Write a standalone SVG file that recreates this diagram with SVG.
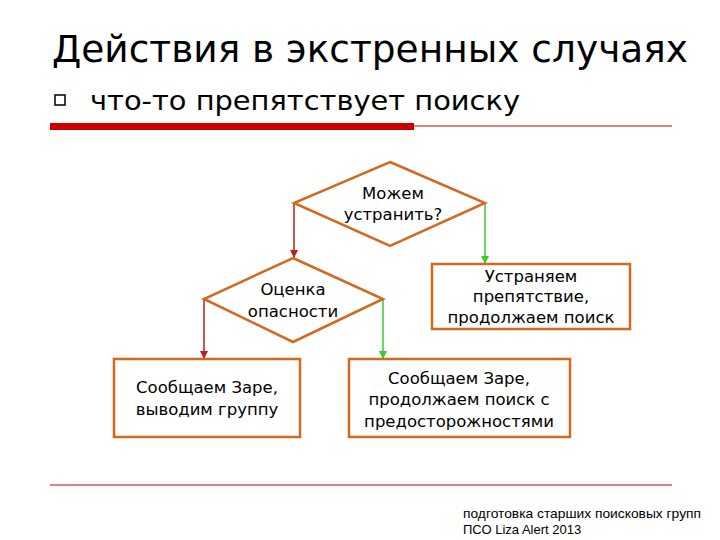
<svg xmlns="http://www.w3.org/2000/svg" width="720" height="540" viewBox="0 0 720 540">
<style>
.s{fill:#fff;stroke:#d2691e;stroke-width:2.5}
.t{font-family:"DejaVu Sans",sans-serif;font-size:16.5px;fill:#000;text-anchor:middle}
.r{stroke:#b22222;stroke-width:1.5;fill:none}
.g{stroke:#33cc33;stroke-width:1.5;fill:none}
</style>
<defs>
<marker id="mr" markerWidth="8" markerHeight="8" refX="7" refY="4" orient="auto" markerUnits="userSpaceOnUse"><path d="M0,0L8,4L0,8z" fill="#b22222"/></marker>
<marker id="mg" markerWidth="8" markerHeight="8" refX="7" refY="4" orient="auto" markerUnits="userSpaceOnUse"><path d="M0,0L8,4L0,8z" fill="#33cc33"/></marker>
</defs>
<rect width="720" height="540" fill="#fff"/>
<text x="52" y="62" font-family="DejaVu Sans,sans-serif" font-size="38" fill="#000" textLength="636" lengthAdjust="spacingAndGlyphs">Действия в экстренных случаях</text>
<rect x="55" y="95" width="10" height="10" fill="none" stroke="#000" stroke-width="1.5"/>
<text x="90" y="110" font-family="DejaVu Sans,sans-serif" font-size="27" fill="#000" textLength="430" lengthAdjust="spacingAndGlyphs">что-то препятствует поиску</text>
<rect x="50" y="123" width="364" height="7" fill="#cc0000"/>
<line x1="414" y1="126" x2="672" y2="126" stroke="#cc0000" stroke-width="1"/>
<line x1="50" y1="485" x2="672" y2="485" stroke="#cc0000" stroke-width="1"/>
<g id="connectors">
<path class="r" d="M294,203V257" marker-end="url(#mr)"/>
<path class="r" d="M204,299V358" marker-end="url(#mr)"/>
<path class="g" d="M485,203V263" marker-end="url(#mg)"/>
<path class="g" d="M383,299V358" marker-end="url(#mg)"/>
</g>
<g id="d1"><path class="s" d="M390,162L485,203L390,246L294,203z"/><text class="t" x="393" y="199">Можем</text><text class="t" x="393" y="220">устранить?</text></g>
<g id="d2"><path class="s" d="M293,258L383,299L293,342L204,299z"/><text class="t" x="293" y="295">Оценка</text><text class="t" x="293" y="317">опасности</text></g>
<g id="b1"><rect class="s" x="432" y="264" width="198" height="65"/><text class="t" x="531" y="282">Устраняем</text><text class="t" x="531" y="302">препятствие,</text><text class="t" x="531" y="323">продолжаем поиск</text></g>
<g id="b2"><rect class="s" x="114" y="359" width="186" height="78"/><text class="t" x="207" y="393">Сообщаем Заре,</text><text class="t" x="207" y="415">выводим группу</text></g>
<g id="b3"><rect class="s" x="349" y="359" width="221" height="78"/><text class="t" x="459" y="384">Сообщаем Заре,</text><text class="t" x="459" y="405">продолжаем поиск с</text><text class="t" x="459" y="427">предосторожностями</text></g>
<text x="463" y="518" font-family="Liberation Sans,sans-serif" font-size="13" fill="#000" textLength="238" lengthAdjust="spacingAndGlyphs">подготовка старших поисковых групп</text>
<text x="463" y="534" font-family="Liberation Sans,sans-serif" font-size="13" fill="#000">ПСО Liza Alert 2013</text>
</svg>
